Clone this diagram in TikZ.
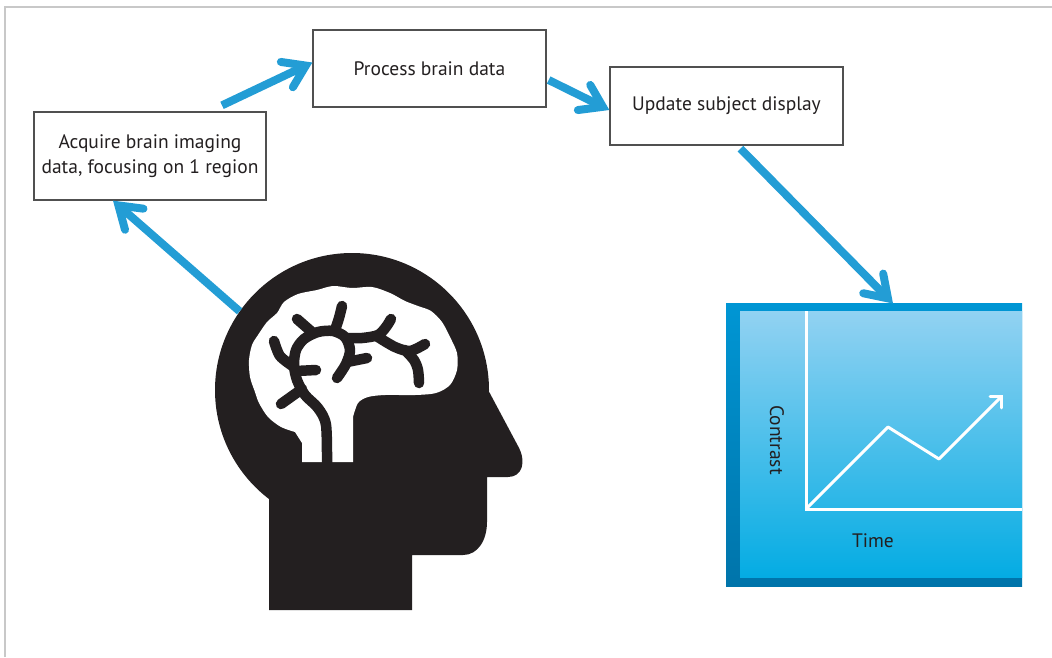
\documentclass[tikz,border=0pt]{standalone}
\usepackage{fontspec}
\setmainfont{PT Sans}
\usetikzlibrary{arrows.meta}

\definecolor{flowblue}{RGB}{35,157,213}
\definecolor{headblack}{RGB}{35,31,32}
\definecolor{framegray}{RGB}{200,200,200}
\definecolor{boxgray}{RGB}{80,80,80}
\definecolor{screentop}{RGB}{146,210,242}
\definecolor{screenbot}{RGB}{4,172,227}
\definecolor{rimtop}{RGB}{0,150,212}
\definecolor{rimbot}{RGB}{0,116,170}

\tikzset{
  stepbox/.style={draw=boxgray, line width=1.3pt, fill=white, align=center,
    inner sep=0pt, text=headblack, font=\fontsize{19.5}{25}\selectfont},
  flow/.style={flowblue, line width=8pt,
    -{Straight Barb[length=21pt,width=28pt,line cap=round]}},
  vein/.style={headblack, line width=10.5pt, line cap=round, line join=round},
  axislabel/.style={text=headblack, font=\fontsize{19.5}{22}\selectfont},
}

\begin{document}
\begin{tikzpicture}[x=1pt, y=-1pt]
    \useasboundingbox (0,0) rectangle (1052,657);
    \draw[framegray, line width=2pt] (5,657) -- (5,7) -- (1052,7);

    % the three steps
    \node[stepbox, minimum width=232pt, minimum height=88pt] (acq) at (150,156)
        {Acquire brain imaging\\data, focusing on 1 region};
    \node[stepbox, minimum width=233pt, minimum height=77pt] (proc) at (429.5,68.5) {Process brain data};
    \node[stepbox, minimum width=233pt, minimum height=78pt] (upd) at (726.5,106) {Update subject display};

    % subject display
    \node[minimum width=296pt, minimum height=283pt, inner sep=0pt, outer sep=0pt,
          top color=rimtop, bottom color=rimbot] (disp) at (874,445) {};
    \fill[top color=screentop, bottom color=screenbot] (740,311) rectangle (1022,577);
    \coordinate (org) at (806,509);
    \draw[white, line width=3pt] (806,311) -- (org) -- (1022,509);
    \draw[white, line width=3pt, line join=round,
          -{Straight Barb[length=8pt,width=16pt,line cap=round]}]
        (org) -- (888,427) -- (939,459) -- (1003,395);
    \node[axislabel, rotate=-90] (ylab) at (777,440) {Contrast};
    \node[axislabel] (xlab) at (873,541) {Time};

    % head
    \node[circle, fill=headblack, minimum size=274pt, inner sep=0pt] (head) at (352,390) {};
    \fill[headblack] (269,480) -- (269,610) -- (412,610) -- (412,555) -- (463,555)
        .. controls (478,555) and (487,540) .. (487,522) -- (487,477) -- (508,477)
        .. controls (522,477) and (527,462) .. (518,446) -- (486,386) -- (352,390) -- cycle;

    % brain
    \fill[white] (302,462) -- (302,443) -- plot[smooth] coordinates {(295,432) (281,427)
        (268,417) (259,403) (255,392) (250,377) (249,360) (252,345) (258,335) (267,322)
        (277,313) (284,302) (298,294) (317,290) (333,286) (352,288) (372,287) (390,293)
        (405,301) (418,306) (431,311) (442,322) (450,337) (457,353) (457,370) (450,385)
        (436,393) (415,395) (385,395) (368,397) (358,403) (353,417)}
        -- (353,462) -- cycle;
    \draw[vein] plot[smooth] coordinates {(327,466) (326,425) (318,408) (305,395) (297,380)
        (294,365) (296,350) (304,339) (318,332) (333,331) (345,337) (350,350) (346,364) (337,378)};
    \draw[vein] plot[smooth] coordinates {(274,341) (280,356) (294,367)};
    \draw[vein] (296,371) -- (316,370);
    \draw[vein] (281,404) -- (302,389);
    \draw[vein] (297,319) -- (313,333);
    \draw[vein] plot[smooth] coordinates {(342,306) (339,318) (335,330)};
    \draw[vein] plot[smooth] coordinates {(346,338) (362,338) (378,335) (386,327) (391,319)};
    \draw[vein] plot[smooth] coordinates {(378,337) (395,347) (410,351) (425,344)};
    \draw[vein] plot[smooth] coordinates {(405,350) (414,360) (418,370) (419,383)};
    \draw[vein] (347,362) -- (367,358);

    % loop arrows
    \draw[flow] ([xshift=72pt,yshift=6pt]acq.north) -- ([yshift=6pt]proc.west);
    \draw[flow] ([xshift=2pt,yshift=-11.5pt]proc.east) -- ([yshift=-4pt]upd.west);
    \draw[flow] ([xshift=14pt,yshift=-3pt]upd.south) -- ([xshift=19pt]disp.north);
    \draw[flow] (head.145) -- ([xshift=-37pt]acq.south);
\end{tikzpicture}
\end{document}
